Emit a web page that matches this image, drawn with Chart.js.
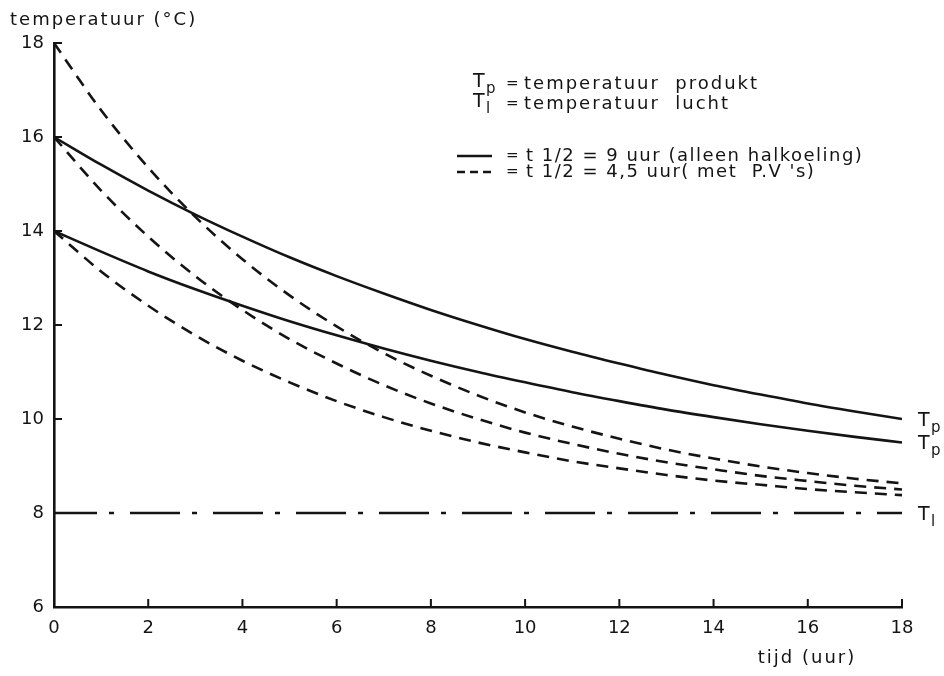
<!DOCTYPE html>
<html>
<head>
<meta charset="utf-8">
<script src="https://cdn.jsdelivr.net/npm/chart.js@4.4.1/dist/chart.umd.min.js"></script>
<style>
  html, body { margin: 0; padding: 0; background: #fff; }
</style>
</head>
<body>
<canvas id="tempChart" width="944" height="676"></canvas>
<script>
// tijd in uren (x-as)
const uren = [0, 1, 2, 3, 4, 5, 6, 7, 8, 9, 10, 11, 12, 13, 14, 15, 16, 17, 18];

// t1/2 = 9 uur (alleen halkoeling) - doorgetrokken lijnen
const tp9Hoog = [16.00, 15.41, 14.86, 14.35, 13.88, 13.44, 13.04, 12.67, 12.32, 12.00, 11.70, 11.43, 11.18, 10.94, 10.72, 10.52, 10.33, 10.16, 10.00];
const tp9Laag = [14.00, 13.56, 13.14, 12.76, 12.41, 12.08, 11.78, 11.50, 11.24, 11.00, 10.78, 10.57, 10.38, 10.20, 10.04, 9.89, 9.75, 9.62, 9.50];

// t1/2 = 4,5 uur (met P.V's) - gestreepte lijnen
const tp45Hoog = [18.00, 16.57, 15.35, 14.30, 13.40, 12.63, 11.97, 11.40, 10.92, 10.50, 10.14, 9.84, 9.58, 9.35, 9.16, 8.99, 8.85, 8.73, 8.63];
const tp45Mid = [16.00, 14.86, 13.88, 13.04, 12.32, 11.70, 11.18, 10.72, 10.33, 10.00, 9.71, 9.47, 9.26, 9.08, 8.93, 8.79, 8.68, 8.58, 8.50];
const tp45Laag = [14.00, 13.14, 12.41, 11.78, 11.24, 10.78, 10.38, 10.04, 9.75, 9.50, 9.29, 9.10, 8.95, 8.81, 8.69, 8.60, 8.51, 8.44, 8.38];

// luchttemperatuur Tl
const luchtUren = [0, 18];
const luchtTemp = [8, 8];

// as-verdeling
const xTicks = [0, 2, 4, 6, 8, 10, 12, 14, 16, 18];
const yTicks = [6, 8, 10, 12, 14, 16, 18];

const INKT = "#141414";
const LETTER = "DejaVu Sans";

function punten(xs, ys) {
    return xs.map((x, i) => ({ x: x, y: ys[i] }));
}

function lijn(label, xs, ys, dash, offset) {
    return {
        label: label,
        data: punten(xs, ys),
        borderColor: INKT,
        borderWidth: 2.6,
        borderDash: dash,
        borderDashOffset: offset || 0,
        pointRadius: 0,
        fill: false,
        cubicInterpolationMode: "monotone"
    };
}

// tekst met letterafstand (zoals het originele sjabloonschrift)
function tekst(ctx, str, x, y, size, spacing, align) {
    ctx.font = size + "px '" + LETTER + "'";
    ctx.letterSpacing = (spacing || 0) + "px";
    ctx.textAlign = align || "left";
    ctx.textBaseline = "middle";
    ctx.fillText(str, x, y);
}

// T met subscript (Tp, Tl)
function tMetIndex(ctx, x, y, sub) {
    tekst(ctx, "T", x, y, 19);
    tekst(ctx, sub, x + 13, y + 7, 15);
}

const tekstPlugin = {
    id: "tekstPlugin",
    afterDraw(chart) {
        const ctx = chart.ctx;
        const xs = chart.scales.x;
        const ys = chart.scales.y;
        const area = chart.chartArea;
        ctx.save();
        ctx.fillStyle = INKT;
        ctx.strokeStyle = INKT;

        // as-titels
        tekst(ctx, "temperatuur (°C)", 10, 20, 18, 2);
        tekst(ctx, "tijd (uur)", 807, 658, 18, 2, "center");

        // korte streepjes naar binnen op de assen
        ctx.lineWidth = 2;
        ctx.setLineDash([]);
        ctx.beginPath();
        yTicks.forEach(v => {
            const py = ys.getPixelForValue(v);
            ctx.moveTo(area.left, py);
            ctx.lineTo(area.left + 8, py);
        });
        xTicks.forEach(v => {
            const px = xs.getPixelForValue(v);
            ctx.moveTo(px, area.bottom);
            ctx.lineTo(px, area.bottom - 8);
        });
        ctx.stroke();

        // legenda
        tMetIndex(ctx, 473, 82, "p");
        tekst(ctx, "=", 506, 84, 15);
        tekst(ctx, "temperatuur  produkt", 524, 84, 18, 2);
        tMetIndex(ctx, 473, 102, "l");
        tekst(ctx, "=", 506, 104, 15);
        tekst(ctx, "temperatuur  lucht", 524, 104, 18, 2);

        ctx.lineWidth = 2.6;
        ctx.beginPath();
        ctx.moveTo(457, 156);
        ctx.lineTo(492, 156);
        ctx.stroke();
        tekst(ctx, "=", 506, 156, 15);
        tekst(ctx, "t 1/2 = 9 uur (alleen halkoeling)", 526, 156, 18, 1.5);

        ctx.setLineDash([8, 5]);
        ctx.beginPath();
        ctx.moveTo(457, 172);
        ctx.lineTo(496, 172);
        ctx.stroke();
        ctx.setLineDash([]);
        tekst(ctx, "=", 506, 172, 15);
        tekst(ctx, "t 1/2 = 4,5 uur( met  P.V 's)", 526, 172, 18, 1.5);

        // labels aan het eind van de curves
        const xEind = xs.getPixelForValue(18) + 16;
        tMetIndex(ctx, xEind, ys.getPixelForValue(tp9Hoog[18]) + 2, "p");
        tMetIndex(ctx, xEind, ys.getPixelForValue(tp9Laag[18]) + 2, "p");
        tMetIndex(ctx, xEind, ys.getPixelForValue(luchtTemp[1]) + 2, "l");
        ctx.restore();
    }
};

const ctx = document.getElementById("tempChart").getContext("2d");

new Chart(ctx, {
    type: "line",
    data: {
        datasets: [
            lijn("Tp 16 (9 uur)", uren, tp9Hoog, []),
            lijn("Tp 14 (9 uur)", uren, tp9Laag, []),
            lijn("Tp 18 (4,5 uur)", uren, tp45Hoog, [12, 8]),
            lijn("Tp 16 (4,5 uur)", uren, tp45Mid, [12, 8]),
            lijn("Tp 14 (4,5 uur)", uren, tp45Laag, [12, 8]),
            lijn("Tl", luchtUren, luchtTemp, [50, 12, 5, 16], 7)
        ]
    },
    options: {
        responsive: false,
        animation: false,
        layout: {
            padding: { top: 43, right: 42, bottom: 0, left: 0 }
        },
        plugins: {
            legend: { display: false },
            tooltip: { enabled: false }
        },
        scales: {
            x: {
                type: "linear",
                min: 0,
                max: 18,
                afterFit: scale => { scale.height = 69; },
                afterBuildTicks: scale => {
                    scale.ticks = xTicks.map(v => ({ value: v }));
                },
                grid: { display: true, drawOnChartArea: false, drawTicks: false },
                border: { display: true, color: INKT, width: 2.6 },
                ticks: {
                    padding: 11,
                    color: INKT,
                    font: { family: LETTER, size: 18 }
                }
            },
            y: {
                min: 6,
                max: 18,
                afterFit: scale => { scale.width = 54; },
                afterBuildTicks: scale => {
                    scale.ticks = yTicks.map(v => ({ value: v }));
                },
                grid: { display: true, drawOnChartArea: false, drawTicks: false },
                border: { display: true, color: INKT, width: 2.6 },
                ticks: {
                    padding: 10,
                    color: INKT,
                    font: { family: LETTER, size: 18 }
                }
            }
        }
    },
    plugins: [tekstPlugin]
});
</script>
</body>
</html>
